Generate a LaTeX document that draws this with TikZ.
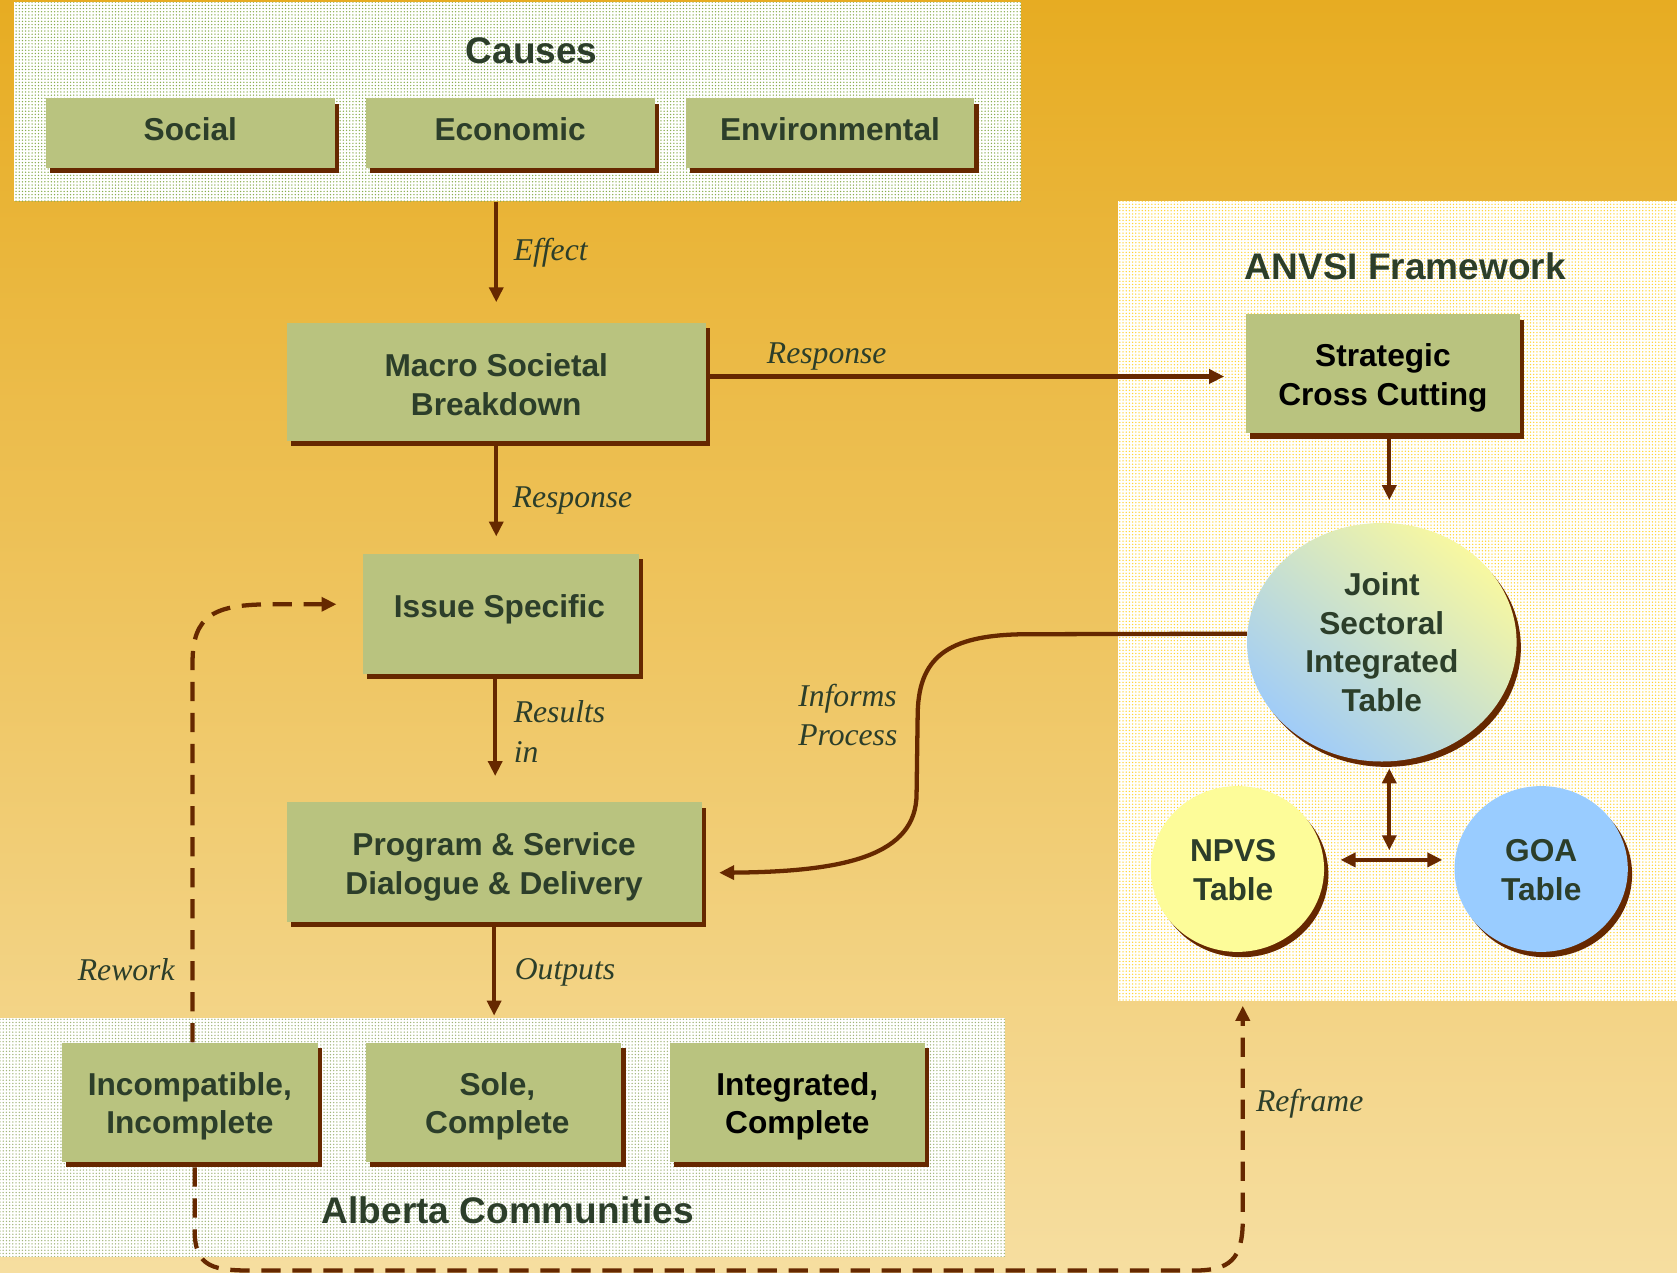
\documentclass[tikz,border=0pt]{standalone}
\usepackage{fontspec}
\setmainfont{Liberation Serif}
\setsansfont{Liberation Sans}
\usetikzlibrary{arrows.meta,shadows,patterns.meta,calc,shapes.geometric}
\definecolor{brn}{RGB}{102,40,0}
\definecolor{boxg}{RGB}{185,195,127}
\definecolor{txtg}{RGB}{44,62,42}
\definecolor{bgtop}{RGB}{231,172,34}
\definecolor{bgbot}{RGB}{246,222,160}
\definecolor{dotg}{RGB}{135,172,75}
\definecolor{dota}{RGB}{160,180,120}
\definecolor{doty}{RGB}{255,212,50}
\definecolor{jblue}{RGB}{160,204,248}
\definecolor{jyel}{RGB}{248,248,160}
\definecolor{npvsc}{RGB}{253,252,153}
\definecolor{goac}{RGB}{153,204,255}
\newcommand\bxfont{\sffamily\bfseries\fontsize{14.8pt}{18pt}\selectfont}
\newcommand\ttlfont{\sffamily\bfseries\fontsize{17.3pt}{20pt}\selectfont}
\newcommand\lblfont{\rmfamily\itshape\fontsize{14.8pt}{18.5pt}\selectfont}
\tikzset{
  panel/.style={rectangle, inner sep=0pt, draw=none, preaction={fill=white},
    pattern={Dots[distance=1.5pt,radius=0.35pt]}},
  shd/.style={drop shadow={shadow xshift=2pt,shadow yshift=-2.5pt,fill=brn,opacity=1}},
  gbox/.style={rectangle, fill=boxg, inner sep=0pt, shd},
  btxt/.style={font=\bxfont, text=txtg, align=center, inner sep=0pt},
  ttl/.style={font=\ttlfont, text=txtg, inner sep=0pt},
  lbl/.style={font=\lblfont, text=txtg, inner sep=0pt, align=left},
  arr/.style={draw=brn, line width=2pt, -{Triangle[length=7pt,width=6.5pt]}},
  darr/.style={draw=brn, line width=2pt, {Triangle[length=7pt,width=6.5pt]}-{Triangle[length=7pt,width=6.5pt]}},
  dsh/.style={draw=brn, line width=2pt, dash pattern=on 9pt off 5.5pt,
    -{Triangle[length=7pt,width=6.5pt]}},
}
\begin{document}
\begin{tikzpicture}[x=0.5pt,y=-0.5pt]
\useasboundingbox (0,0) rectangle (1568,1190);
\shade[top color=bgtop,bottom color=bgbot] (0,0) rectangle (1568,1190);

% panels
\node[panel, pattern color=dotg, minimum width=471pt, minimum height=93pt] (causes) at (484,95) {};
\node[panel, pattern color=doty, minimum width=261.5pt, minimum height=374pt] (anvsi) at (1306.5,562) {};
\node[panel, pattern color=dota, minimum width=470pt, minimum height=111.5pt] (alb) at (470,1063.5) {};

% titles
\node[ttl] (tcauses) at (497,47) {Causes};
\node[ttl] (tanvsi) at (1314,249) {ANVSI Framework};
\node[ttl] (talb) at (475,1132) {Alberta Communities};

% boxes
\node[gbox, minimum width=135pt, minimum height=32.5pt] (social) at (178,124.5) {};
\node[btxt] (social-t) at (178,120.5) {Social};
\node[gbox, minimum width=135pt, minimum height=32.5pt] (econ) at (477,124.5) {};
\node[btxt] (econ-t) at (477,120.5) {Economic};
\node[gbox, minimum width=135pt, minimum height=32.5pt] (env) at (776,124.5) {};
\node[btxt] (env-t) at (776,120.5) {Environmental};
\node[gbox, minimum width=196pt, minimum height=55pt] (macro) at (464,357) {};
\node[btxt] (macro-t) at (464,359.5) {Macro Societal\\Breakdown};
\node[gbox, minimum width=129pt, minimum height=56pt] (issue) at (468,574) {};
\node[btxt] (issue-t) at (467,570) {Issue Specific};
\node[gbox, minimum width=194pt, minimum height=56pt] (prog) at (462,806) {};
\node[btxt] (prog-t) at (462,810.5) {Program \& Service\\Dialogue \& Delivery};
\node[gbox, minimum width=119.5pt, minimum height=55.5pt] (incomp) at (177.5,1030.5) {};
\node[btxt] (incomp-t) at (177.5,1034.5) {Incompatible,\\Incomplete};
\node[gbox, minimum width=119.5pt, minimum height=55.5pt] (sole) at (461.5,1030.5) {};
\node[btxt] (sole-t) at (465,1034.5) {Sole,\\Complete};
\node[gbox, minimum width=119.5pt, minimum height=55.5pt] (integ) at (745.5,1030.5) {};
\node[btxt, text=black] (integ-t) at (745.5,1034.5) {Integrated,\\Complete};
\node[gbox, minimum width=128pt, minimum height=55.5pt] (strat) at (1293,349.5) {};
\node[btxt, text=black] (strat-t) at (1293,353.5) {Strategic\\Cross Cutting};

% ellipse west point (connector drawn before the ellipse)
\coordinate (jw) at (1166,592.5);
\draw[arr] (jw) -- (957,593) .. controls (885,594) and (858,615) .. (858,670)
   -- (857,742) .. controls (857,800) and (790,815) .. ($(prog.east)+(16,10)$);

% ellipses
\node[ellipse, inner sep=0pt, minimum width=126pt, minimum height=111.5pt,
  top color=jyel, bottom color=jblue, shading angle=-40, shd, font=\bxfont, text=txtg, align=center]
  (joint) at (1292,600.5) {Joint\\Sectoral\\Integrated\\Table};
\node[ellipse, inner sep=0pt, minimum width=81pt, minimum height=77.5pt, fill=npvsc, shd] (npvs) at (1157,812.5) {};
\node[btxt] (npvs-t) at (1153,813.5) {NPVS\\Table};
\node[ellipse, inner sep=0pt, minimum width=81pt, minimum height=77.5pt, fill=goac, shd] (goa) at (1441,812.5) {};
\node[btxt] (goa-t) at (1441,813.5) {GOA\\Table};

% connectors
\draw[arr] (causes.south -| macro.north) -- ($(macro.north)+(0,-19)$);
\draw[arr] ($(macro.east)+(0,-5)$) -- ($(strat.west)+(-20,2.5)$);
\draw[arr] (macro.south) -- ($(macro.south |- issue.north)+(0,-16)$);
\draw[arr] ($(issue.south)+(-5,0)$) -- ($(prog.north)+(1,-24)$);
\draw[arr] (prog.south) -- ($(alb.north -| prog.south)+(0,-2)$);
\draw[arr] ($(strat.south)+(6,0)$) -- ($(joint.north)+(7,-21)$);
\coordinate (jx) at (1299,795);
\draw[darr] ($(joint.south)+(7,6)$) -- (jx);
\draw[darr] ($(npvs.east)+(15,-8.5)$) -- ($(goa.west)+(-11,-8.5)$);

% dashed loops
\draw[dsh] ($(incomp.north)+(2.5,0)$) -- (180,620) .. controls (180,575) and (200,565) .. (255,565)
   -- ($(issue.west)+(-24,-9)$);
\draw[dsh] ($(incomp.south)+(4.5,5)$) -- (182,1150) .. controls (182,1186) and (200,1188) .. (240,1188)
   -- (1115,1188) .. controls (1150,1188) and (1162,1178) .. (1162,1140)
   -- ($(anvsi.south)+(-144.5,4)$);

% labels
\node[lbl, anchor=west] (leffect) at (480,236) {Effect};
\node[lbl] (lresp1) at (773,333) {Response};
\node[lbl, anchor=west] (lresp2) at (479,468) {Response};
\node[lbl, anchor=west] (lres) at (480,684) {Results\\in};
\node[lbl, anchor=west] (linf) at (746,668.5) {Informs\\Process};
\node[lbl, anchor=west] (lout) at (481,909) {Outputs};
\node[lbl] (lrew) at (118,907) {Rework};
\node[lbl, anchor=west] (lref) at (1174,1032) {Reframe};
\end{tikzpicture}
\end{document}
